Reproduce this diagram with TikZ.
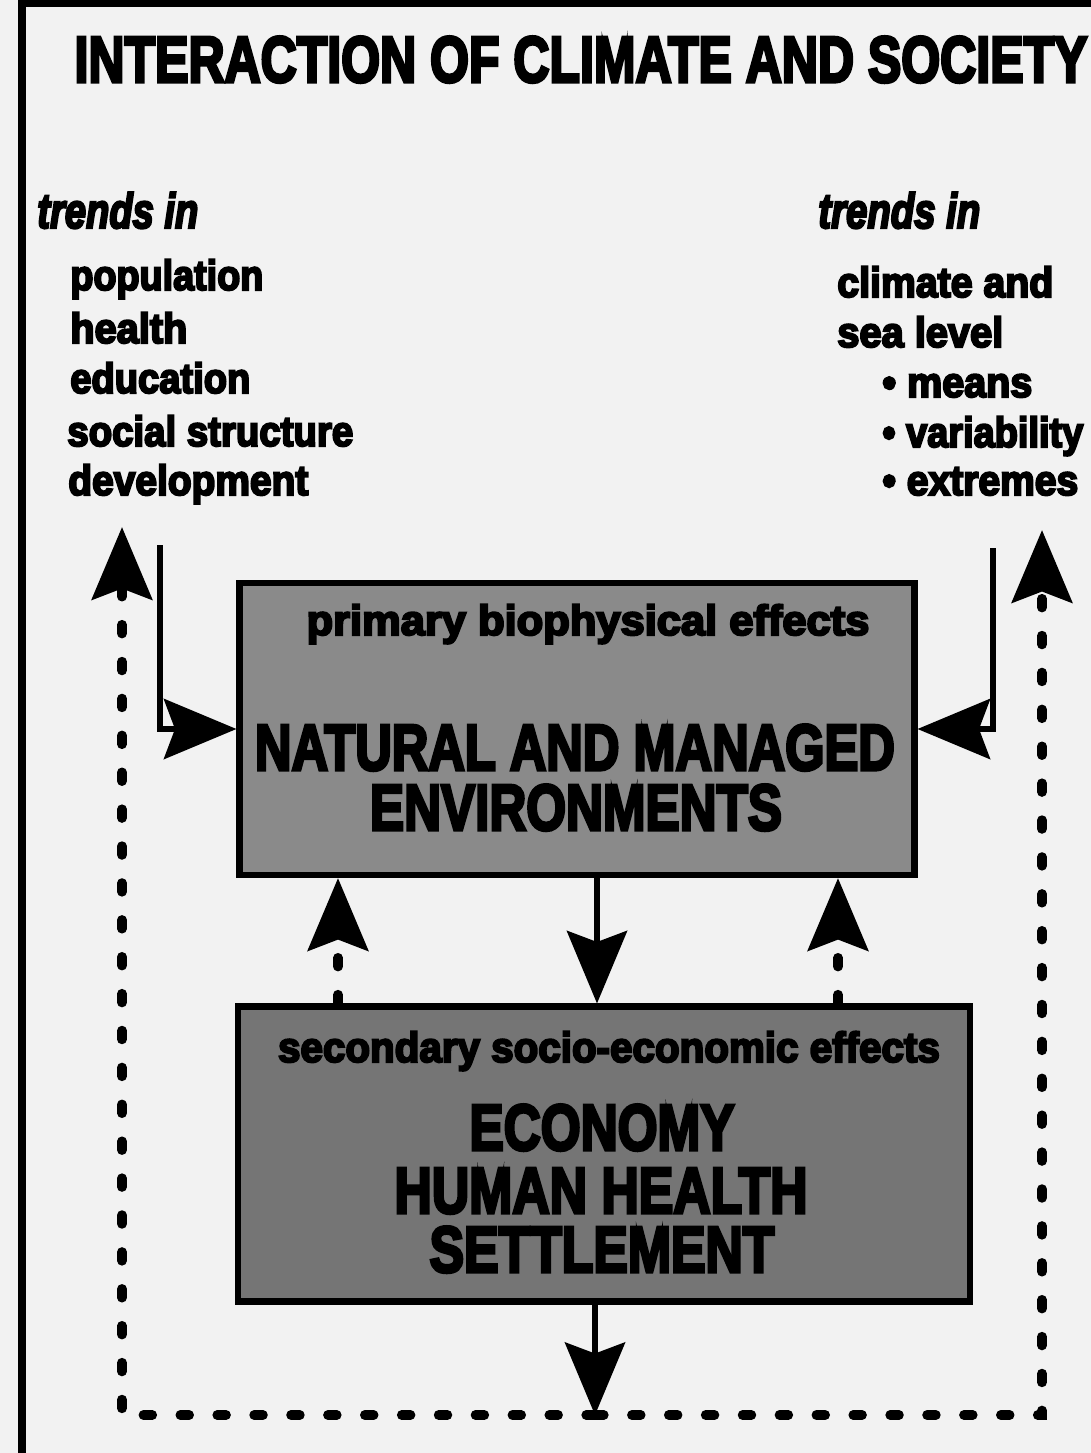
\documentclass[tikz,border=0pt]{standalone}
\usepackage{fontspec}
\usepackage{graphicx}
\usetikzlibrary{arrows.meta}
\newfontfamily\heavyfont{Liberation Sans Bold}[FakeBold=5]
\newfontfamily\heavyitfont{Liberation Sans Bold Italic}[FakeBold=5]
\newcommand{\fitw}[2]{\resizebox{#1}{\height}{#2}}
\definecolor{paper}{gray}{0.95}
\definecolor{boxgrey}{gray}{0.54}
\definecolor{boxdark}{gray}{0.46}
\tikzset{
	titlestyle/.style={inner sep=0,anchor=base,font=\heavyfont\fontsize{37}{37}\selectfont},
	trendstyle/.style={inner sep=0,anchor=base west,font=\heavyitfont\fontsize{28}{28}\selectfont},
	itemstyle/.style={inner sep=0,anchor=base west,font=\heavyfont\fontsize{24}{24}\selectfont},
	headstyle/.style={inner sep=0,anchor=base,font=\heavyfont\fontsize{24}{24}\selectfont},
	capstyle/.style={inner sep=0,anchor=base,font=\heavyfont\fontsize{37}{37}\selectfont},
	boxstyle/.style={rectangle,draw=black,line width=3.5pt,fill=boxgrey,inner sep=0},
	darkboxstyle/.style={boxstyle,fill=boxdark},
	solidline/.style={line width=3.5pt},
	dashline/.style={line width=5.5pt,line cap=round,dash pattern=on 5pt off 16pt},
	bigtip/.tip={Stealth[length=1.45cm,width=1.2cm,inset=0.22cm]}
}
\begin{document}
\begin{tikzpicture}[x=0.02cm,y=-0.02cm]
	\fill[paper] (0,0) rectangle (1091,1453);
	\useasboundingbox (0,0) rectangle (1091,1453);
	\draw[line width=4pt] (22,1453) |- (1091,3);
	\node[titlestyle] (title) at (581,82) {\fitw{20.26cm}{INTERACTION OF CLIMATE AND SOCIETY}};
	\node[trendstyle] (ltrend) at (37,228) {\fitw{3.22cm}{trends in}};
	\node[itemstyle] (pop) at (70,290) {\fitw{3.86cm}{population}};
	\node[itemstyle] (hea) at (70,343) {\fitw{2.34cm}{health}};
	\node[itemstyle] (edu) at (70,393) {\fitw{3.6cm}{education}};
	\node[itemstyle] (soc) at (67,446) {\fitw{5.72cm}{social structure}};
	\node[itemstyle] (dev) at (68,495) {\fitw{4.8cm}{development}};
	\node[trendstyle] (rtrend) at (818,228) {\fitw{3.24cm}{trends in}};
	\node[itemstyle] (cli) at (837,297) {\fitw{4.32cm}{climate and}};
	\node[itemstyle] (sea) at (837,347) {\fitw{3.32cm}{sea level}};
	\node[itemstyle] (mea) at (882,397) {\fitw{3.0cm}{\textbullet\ means}};
	\node[itemstyle] (var) at (882,447) {\fitw{4.02cm}{\textbullet\ variability}};
	\node[itemstyle] (ext) at (882,495) {\fitw{3.92cm}{\textbullet\ extremes}};
	\node[boxstyle,minimum width=13.5cm,minimum height=5.84cm] (nat) at (577,729) {};
	\node[darkboxstyle,minimum width=14.64cm,minimum height=5.9cm] (eco) at (604,1154) {};
	\node[headstyle] (prim) at (588,635) {\fitw{11.26cm}{primary biophysical effects}};
	\node[capstyle] (nat1) at (575,770) {\fitw{12.8cm}{NATURAL AND MANAGED}};
	\node[capstyle] (nat2) at (576,830) {\fitw{8.24cm}{ENVIRONMENTS}};
	\node[headstyle] (sec) at (609,1062) {\fitw{13.24cm}{secondary socio-economic effects}};
	\node[capstyle] (eco1) at (602,1150) {\fitw{5.3cm}{ECONOMY}};
	\node[capstyle] (eco2) at (601,1213) {\fitw{8.26cm}{HUMAN HEALTH}};
	\node[capstyle] (eco3) at (602,1272) {\fitw{6.9cm}{SETTLEMENT}};
	\coordinate (lsrc) at (160,545);
	\coordinate (rsrc) at (993,548);
	\coordinate (ltip) at (122,527);
	\coordinate (rtip) at (1042,530);
	\coordinate (loop) at (595,1415);
	\coordinate (upl) at (338,0);
	\coordinate (upr) at (838,0);
	\coordinate (down) at (597,0);
	\draw[solidline,-bigtip] (lsrc) |- (nat.west);
	\draw[solidline,-bigtip] (rsrc) |- (nat.east);
	\draw[dashline,-bigtip] (eco.north -| upl) -- (nat.south -| upl);
	\draw[solidline,-bigtip] (nat.south -| down) -- (eco.north -| down);
	\draw[dashline,-bigtip] (eco.north -| upr) -- (nat.south -| upr);
	\draw[solidline,-bigtip] (eco.south -| loop) -- (loop);
	\draw[dashline,-bigtip] (loop) -| (ltip);
	\draw[dashline,-bigtip] (loop) -| (rtip);
\end{tikzpicture}
\end{document}
